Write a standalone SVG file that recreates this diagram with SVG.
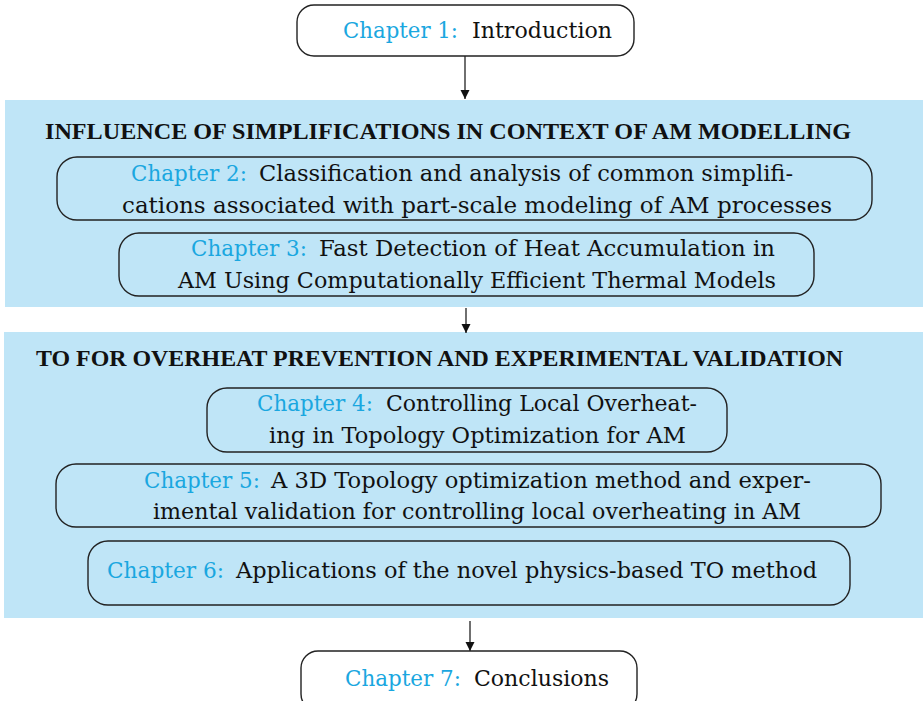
<svg xmlns="http://www.w3.org/2000/svg" width="923" height="701" viewBox="0 0 923 701">
<style>
.band{fill:#BFE5F7;stroke:none}
.box{fill:none;stroke:#222;stroke-width:1.4}
.boxw{fill:#fff;stroke:#222;stroke-width:1.4}
text{font-family:"DejaVu Serif","Liberation Serif",serif;font-size:22.5px;fill:#111}
.ch{fill:#1AA7E0}
.hd{font-family:"Liberation Serif","DejaVu Serif",serif;font-weight:bold;font-size:24px}
.conn{stroke:#222;stroke-width:1.3;fill:none}
</style>
<defs>
<marker id="ah" markerWidth="10" markerHeight="10" refX="9" refY="5" orient="auto" markerUnits="userSpaceOnUse">
<path d="M0,0.5 L9,5 L0,9.5 Z" fill="#111"/>
</marker>
</defs>
<rect class="band" x="5" y="100" width="918" height="207"/>
<rect class="band" x="4" y="332" width="919" height="286"/>
<g id="connectors">
<line class="conn" x1="465" y1="56" x2="465" y2="99" marker-end="url(#ah)"/>
<line class="conn" x1="466" y1="308" x2="466" y2="333" marker-end="url(#ah)"/>
<line class="conn" x1="470" y1="621" x2="470" y2="651" marker-end="url(#ah)"/>
</g>
<g id="heading1"><text class="hd" x="45" y="139" textLength="806" lengthAdjust="spacingAndGlyphs">INFLUENCE OF SIMPLIFICATIONS IN CONTEXT OF AM MODELLING</text></g>
<g id="heading2"><text class="hd" x="36" y="366" textLength="807" lengthAdjust="spacingAndGlyphs">TO FOR OVERHEAT PREVENTION AND EXPERIMENTAL VALIDATION</text></g>
<g id="ch1">
<rect class="boxw" x="297" y="5" width="337" height="51" rx="17"/>
<text class="ch" x="343" y="38" textLength="115" lengthAdjust="spacingAndGlyphs">Chapter 1:</text>
<text x="472" y="38" textLength="140" lengthAdjust="spacingAndGlyphs">Introduction</text>
</g>
<g id="ch2">
<rect class="box" x="57" y="157" width="815" height="63" rx="20"/>
<text class="ch" x="131" y="181" textLength="116" lengthAdjust="spacingAndGlyphs">Chapter 2:</text>
<text x="259" y="181" textLength="534" lengthAdjust="spacingAndGlyphs">Classification and analysis of common simplifi-</text>
<text x="122" y="213" textLength="710" lengthAdjust="spacingAndGlyphs">cations associated with part-scale modeling of AM processes</text>
</g>
<g id="ch3">
<rect class="box" x="119" y="233" width="695" height="63" rx="20"/>
<text class="ch" x="191" y="256" textLength="116" lengthAdjust="spacingAndGlyphs">Chapter 3:</text>
<text x="319" y="256" textLength="456" lengthAdjust="spacingAndGlyphs">Fast Detection of Heat Accumulation in</text>
<text x="178" y="288" textLength="598" lengthAdjust="spacingAndGlyphs">AM Using Computationally Efficient Thermal Models</text>
</g>
<g id="ch4">
<rect class="box" x="207" y="388" width="520" height="64" rx="20"/>
<text class="ch" x="257" y="411" textLength="116" lengthAdjust="spacingAndGlyphs">Chapter 4:</text>
<text x="386" y="411" textLength="311" lengthAdjust="spacingAndGlyphs">Controlling Local Overheat-</text>
<text x="269" y="443" textLength="417" lengthAdjust="spacingAndGlyphs">ing in Topology Optimization for AM</text>
</g>
<g id="ch5">
<rect class="box" x="56" y="464" width="825" height="63" rx="20"/>
<text class="ch" x="144" y="488" textLength="116" lengthAdjust="spacingAndGlyphs">Chapter 5:</text>
<text x="271" y="488" textLength="540" lengthAdjust="spacingAndGlyphs">A 3D Topology optimization method and exper-</text>
<text x="153" y="519" textLength="648" lengthAdjust="spacingAndGlyphs">imental validation for controlling local overheating in AM</text>
</g>
<g id="ch6">
<rect class="box" x="88" y="541" width="762" height="64" rx="20"/>
<text class="ch" x="107" y="578" textLength="117" lengthAdjust="spacingAndGlyphs">Chapter 6:</text>
<text x="236" y="578" textLength="581" lengthAdjust="spacingAndGlyphs">Applications of the novel physics-based TO method</text>
</g>
<g id="ch7">
<rect class="boxw" x="301" y="651" width="336" height="60" rx="17"/>
<text class="ch" x="345" y="686" textLength="116" lengthAdjust="spacingAndGlyphs">Chapter 7:</text>
<text x="474" y="686" textLength="135" lengthAdjust="spacingAndGlyphs">Conclusions</text>
</g>
</svg>
